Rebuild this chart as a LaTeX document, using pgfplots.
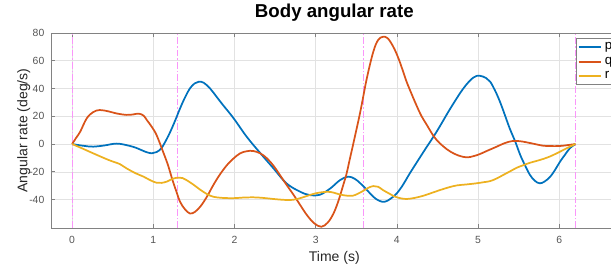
\documentclass[border=0pt]{standalone}
\usepackage{fontspec}
\setmainfont{Liberation Sans}
\usepackage{pgfplots}
\pgfplotsset{compat=1.18}
\definecolor{mblue}{rgb}{0,0.447,0.741}
\definecolor{mred}{rgb}{0.85,0.325,0.098}
\definecolor{myel}{rgb}{0.929,0.694,0.125}
\definecolor{axgray}{RGB}{130,130,130}
\definecolor{tickgray}{RGB}{85,85,85}
\definecolor{lblgray}{RGB}{38,38,38}
\definecolor{gridgray}{RGB}{226,226,226}
\definecolor{xl}{RGB}{250,150,250}
\begin{document}
\begin{tikzpicture}[x=1pt,y=1pt]
\begin{axis}[
  at={(0,0)}, anchor=south west,
  scale only axis, width=425pt, height=146.25pt,
  xmin=-0.26, xmax=6.72, ymin=-60.5, ymax=80,
  xtick={0,1,2,3,4,5,6}, ytick={-40,-20,0,20,40,60,80},
  grid=major, major grid style={gridgray, line width=0.4pt},
  axis line style={axgray, line width=0.5pt},
  tick style={axgray, line width=0.5pt}, major tick length=3pt,
  tick align=inside, xtick pos=both, ytick pos=left,
  ticklabel style={font=\fontsize{7.8}{9}\selectfont, text=tickgray},
  /pgf/number format/assume math mode=true,
  yticklabel style={xshift=-1.5pt},
  xticklabel style={yshift=-2.5pt},
  title={Body angular rate},
  title style={at={(rel axis cs:0.5,1.0359)}, anchor=base, font=\fontsize{14}{16}\selectfont\bfseries, text=black},
  xlabel={Time (s)},
  xlabel style={at={(rel axis cs:0.5,-0.173)}, anchor=base, font=\fontsize{10.5}{12}\selectfont, text=lblgray},
  ylabel={Angular rate (deg/s)},
  ylabel style={at={(rel axis cs:-0.0419,0.5)}, anchor=base, font=\fontsize{10.5}{12}\selectfont, text=lblgray},
  legend style={at={(rel axis cs:0.9264,0.9728)}, anchor=north west, draw=axgray, line width=0.5pt,
    font=\fontsize{10}{12}\selectfont, inner sep=1pt, fill=white},
  legend cell align=left,
]
\addplot[xl, line width=0.5pt, dash pattern=on 5pt off 1.5pt on 1.2pt off 1.5pt, forget plot] coordinates {(0,-60.5) (0,80)};
\addplot[xl, line width=0.5pt, dash pattern=on 5pt off 1.5pt on 1.2pt off 1.5pt, forget plot] coordinates {(1.295,-60.5) (1.295,80)};
\addplot[xl, line width=0.5pt, dash pattern=on 5pt off 1.5pt on 1.2pt off 1.5pt, forget plot] coordinates {(3.59,-60.5) (3.59,80)};
\addplot[xl, line width=0.5pt, dash pattern=on 5pt off 1.5pt on 1.2pt off 1.5pt, forget plot] coordinates {(6.2,-60.5) (6.2,80)};

\addplot[mblue, line width=1.3pt, smooth, tension=0.6] coordinates {
(0,0) (0.13,-1.2) (0.26,-1.9) (0.4,-1.0) (0.55,0.3) (0.7,-1.2) (0.8,-3) (0.9,-5.5) (0.98,-6.7) (1.04,-5.8) (1.10,-3) (1.16,3) (1.21,8.9) (1.27,17) (1.33,25.7) (1.39,33.5) (1.45,40) (1.51,43.7) (1.56,44.9) (1.62,44.2) (1.70,40) (1.78,34) (1.86,28) (1.99,18.5) (2.15,5.3) (2.32,-6.7) (2.48,-17.5) (2.64,-28.3) (2.81,-34.4) (2.93,-36.8) (3.05,-36.6) (3.18,-32) (3.30,-26) (3.40,-23.5) (3.48,-25) (3.55,-28.3) (3.63,-33) (3.71,-38) (3.78,-40.8) (3.85,-41.6) (3.92,-39.5) (4.0,-35.5) (4.08,-29) (4.16,-21.1) (4.33,-5.5) (4.49,8.9) (4.66,25.7) (4.82,40.1) (4.94,47.8) (5.02,49.2) (5.10,47.5) (5.15,44.9) (5.21,38.5) (5.27,30.5) (5.33,21) (5.39,11.3) (5.46,1.5) (5.52,-7.9) (5.58,-15.5) (5.64,-22.3) (5.70,-26.5) (5.76,-28.3) (5.82,-27) (5.89,-23.5) (5.95,-18.5) (6.01,-12.7) (6.07,-7.8) (6.13,-3.1) (6.2,0)
};
\addlegendentry{p}
\addplot[mred, line width=1.3pt, smooth, tension=0.6] coordinates {
(0,0) (0.05,4.5) (0.10,8.9) (0.18,18.5) (0.26,23) (0.34,24.5) (0.45,23.5) (0.55,22) (0.67,21) (0.75,21.3) (0.82,21.9) (0.88,20.5) (0.92,17.3) (0.98,12.5) (1.04,6.5) (1.12,-5.5) (1.18,-15) (1.23,-24.7) (1.28,-33.5) (1.33,-41.6) (1.39,-47) (1.45,-50) (1.51,-49) (1.58,-45) (1.66,-38) (1.74,-29.5) (1.82,-22) (1.91,-15) (1.99,-10.3) (2.07,-6.7) (2.15,-5.2) (2.23,-5) (2.32,-6.8) (2.40,-10.3) (2.48,-15.6) (2.56,-22.3) (2.64,-29.3) (2.73,-36.8) (2.81,-44) (2.89,-51) (2.98,-57) (3.07,-59.6) (3.15,-56.5) (3.22,-50) (3.28,-41) (3.34,-29.5) (3.38,-21.5) (3.42,-11) (3.46,-0.7) (3.55,23.3) (3.63,47.3) (3.71,66.5) (3.77,75) (3.83,77.3) (3.88,76.5) (3.92,73.7) (3.97,68.5) (4.02,61.7) (4.07,53.5) (4.12,44.9) (4.18,36.3) (4.24,28.1) (4.30,20.5) (4.37,13.7) (4.43,7.8) (4.49,2.9) (4.57,-1.6) (4.66,-5.5) (4.76,-8.3) (4.86,-9.6) (4.94,-8.8) (5.02,-7.3) (5.10,-5.2) (5.23,-1.9) (5.33,0.7) (5.43,2.2) (5.52,2) (5.60,1.2) (5.70,0) (5.80,-1.2) (5.90,-1.5) (6.01,-1.4) (6.1,-0.8) (6.2,0)
};
\addlegendentry{q}
\addplot[myel, line width=1.3pt, smooth, tension=0.6] coordinates {
(0,0) (0.13,-3.3) (0.26,-6.7) (0.45,-11.5) (0.59,-14.5) (0.67,-17.5) (0.78,-21) (0.88,-23.5) (0.96,-26) (1.04,-27.9) (1.10,-28) (1.17,-27) (1.24,-25) (1.31,-24.2) (1.36,-24.5) (1.41,-26) (1.50,-29.5) (1.58,-33) (1.66,-36) (1.74,-38) (1.85,-38.8) (1.99,-39) (2.10,-38.6) (2.23,-38.4) (2.35,-38.8) (2.48,-39.6) (2.60,-40.2) (2.68,-40.4) (2.78,-39.5) (2.89,-37.5) (3.00,-35.5) (3.14,-34.4) (3.22,-35) (3.30,-36.4) (3.40,-37.3) (3.46,-37.2) (3.52,-35.8) (3.59,-33.6) (3.65,-31.5) (3.71,-30.3) (3.77,-30.8) (3.83,-33.2) (3.90,-35.5) (3.96,-37.5) (4.04,-39) (4.12,-39.6) (4.22,-38.8) (4.33,-37.2) (4.43,-35.2) (4.53,-33.2) (4.64,-31.2) (4.74,-29.8) (4.86,-29.1) (4.98,-28.3) (5.07,-27.5) (5.15,-26.7) (5.23,-24.8) (5.31,-22.3) (5.40,-19.5) (5.48,-17) (5.56,-15.2) (5.64,-13.5) (5.75,-11.7) (5.85,-9.8) (5.93,-7.8) (6.01,-5.5) (6.1,-2.8) (6.2,0)
};
\addlegendentry{r}
\end{axis}
\pgfresetboundingbox
\useasboundingbox (-38.25,-30) rectangle (420,171);
\end{tikzpicture}
\end{document}
